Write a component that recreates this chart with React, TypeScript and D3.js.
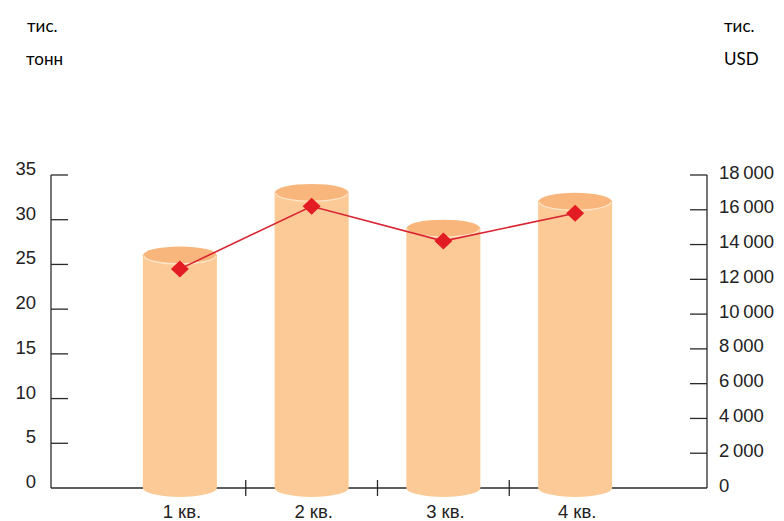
import React from "react";
import * as d3 from "d3";

const categories = ["1 кв.", "2 кв.", "3 кв.", "4 кв."];
const volumeTons = [26, 33, 29, 32]; // тис. тонн (left axis, bars)
const valueUSD = [12600, 16200, 14200, 15800]; // тис. USD (right axis, line)
const leftTicks = [0, 5, 10, 15, 20, 25, 30, 35];
const rightTicks = [0, 2000, 4000, 6000, 8000, 10000, 12000, 14000, 16000, 18000];
const leftUnit = ["тис.", "тонн"];
const rightUnit = ["тис.", "USD"];

const W = 784;
const H = 521;
const axisLeftX = 51;
const axisRightX = 707;
const yTop = 175;
const yBase = 488;

const fmt = d3.formatLocale({ decimal: ",", thousands: "\u202F", grouping: [3], currency: ["", ""] }).format(",d");

export default function App() {
  const x = d3.scaleBand<string>().domain(categories).range([114, 641]).paddingInner(0).paddingOuter(0);
  const yL = d3.scaleLinear().domain([0, 35]).range([yBase, yTop]);
  const yR = d3.scaleLinear().domain([0, 18000]).range([yBase, yTop]);
  const barW = 74;
  const ry = 9;
  const cx = (c: string) => (x(c) as number) + x.bandwidth() / 2;

  const line = d3
    .line<number>()
    .x((_, i) => cx(categories[i]))
    .y((d) => yR(d));

  const numFont = "'Liberation Sans', Arial, sans-serif";
  const hdrFont = "Lato, 'Open Sans', sans-serif";

  return (
    <svg
      width={W}
      height={H}
      viewBox={`0 0 ${W} ${H}`}
      style={{ position: "absolute", left: 0, top: 0, display: "block", background: "#fff" }}
    >
      {/* unit headers */}
      <g fontFamily={hdrFont} fontSize={17} fill="#000">
        <text x={27} y={32}>{leftUnit[0]}</text>
        <text x={26} y={65}>{leftUnit[1]}</text>
        <text x={724} y={32}>{rightUnit[0]}</text>
        <text x={724} y={65}>{rightUnit[1]}</text>
      </g>

      {/* axes */}
      <g stroke="#2a2a2a" strokeWidth={1.3} fill="none">
        <line x1={axisLeftX} y1={yTop} x2={axisLeftX} y2={yBase} />
        <line x1={axisRightX} y1={yTop} x2={axisRightX} y2={yBase} />
        <line x1={axisLeftX} y1={yBase} x2={axisRightX} y2={yBase} />
        {leftTicks.filter((t) => t > 0).map((t) => (
          <line key={"lt" + t} x1={axisLeftX} x2={axisLeftX + 17} y1={yL(t)} y2={yL(t)} />
        ))}
        {rightTicks.filter((t) => t > 0).map((t) => (
          <line key={"rt" + t} x1={axisRightX - 17} x2={axisRightX} y1={yR(t)} y2={yR(t)} />
        ))}
        {categories.slice(1).map((c) => (
          <line key={"xt" + c} x1={x(c) as number} x2={x(c) as number} y1={yBase - 8} y2={yBase + 8} />
        ))}
      </g>

      {/* tick labels */}
      <g fontFamily={numFont} fontSize={18.5} fill="#222">
        {leftTicks.map((t) => (
          <text key={"ll" + t} x={36} y={yL(t)} textAnchor="end">
            {t}
          </text>
        ))}
        {rightTicks.map((t) => (
          <text key={"rl" + t} x={719} y={yR(t) + 3.5}>
            {fmt(t)}
          </text>
        ))}
        {categories.map((c) => (
          <text key={"xl" + c} x={cx(c) + 2} y={518} textAnchor="middle">
            {c}
          </text>
        ))}
      </g>

      {/* cylinders */}
      {categories.map((c, i) => {
        const xc = cx(c);
        const yt = yL(volumeTons[i]);
        const l = xc - barW / 2;
        const r = xc + barW / 2;
        const rx = barW / 2;
        const body = `M${l},${yt} L${l},${yBase} A${rx},${ry} 0 0 0 ${r},${yBase} L${r},${yt} Z`;
        return (
          <g key={"bar" + c}>
            <path d={body} fill="#fbca97" />
            <ellipse cx={xc} cy={yt} rx={rx} ry={ry} fill="#f8b67c" />
            <path
              d={`M${l + 1},${yt} A${rx - 1},${ry - 0.5} 0 0 0 ${r - 1},${yt}`}
              fill="none"
              stroke="#ffe6c8"
              strokeWidth={1.3}
            />
          </g>
        );
      })}

      {/* line series */}
      <path d={line(valueUSD) || ""} fill="none" stroke="#d92432" strokeWidth={1.6} />
      {valueUSD.map((v, i) => {
        const px = cx(categories[i]);
        const py = yR(v);
        return (
          <path
            key={"m" + i}
            d={`M${px},${py - 8.5} L${px + 9},${py} L${px},${py + 8.5} L${px - 9},${py} Z`}
            fill="#e31c24"
          />
        );
      })}
    </svg>
  );
}
